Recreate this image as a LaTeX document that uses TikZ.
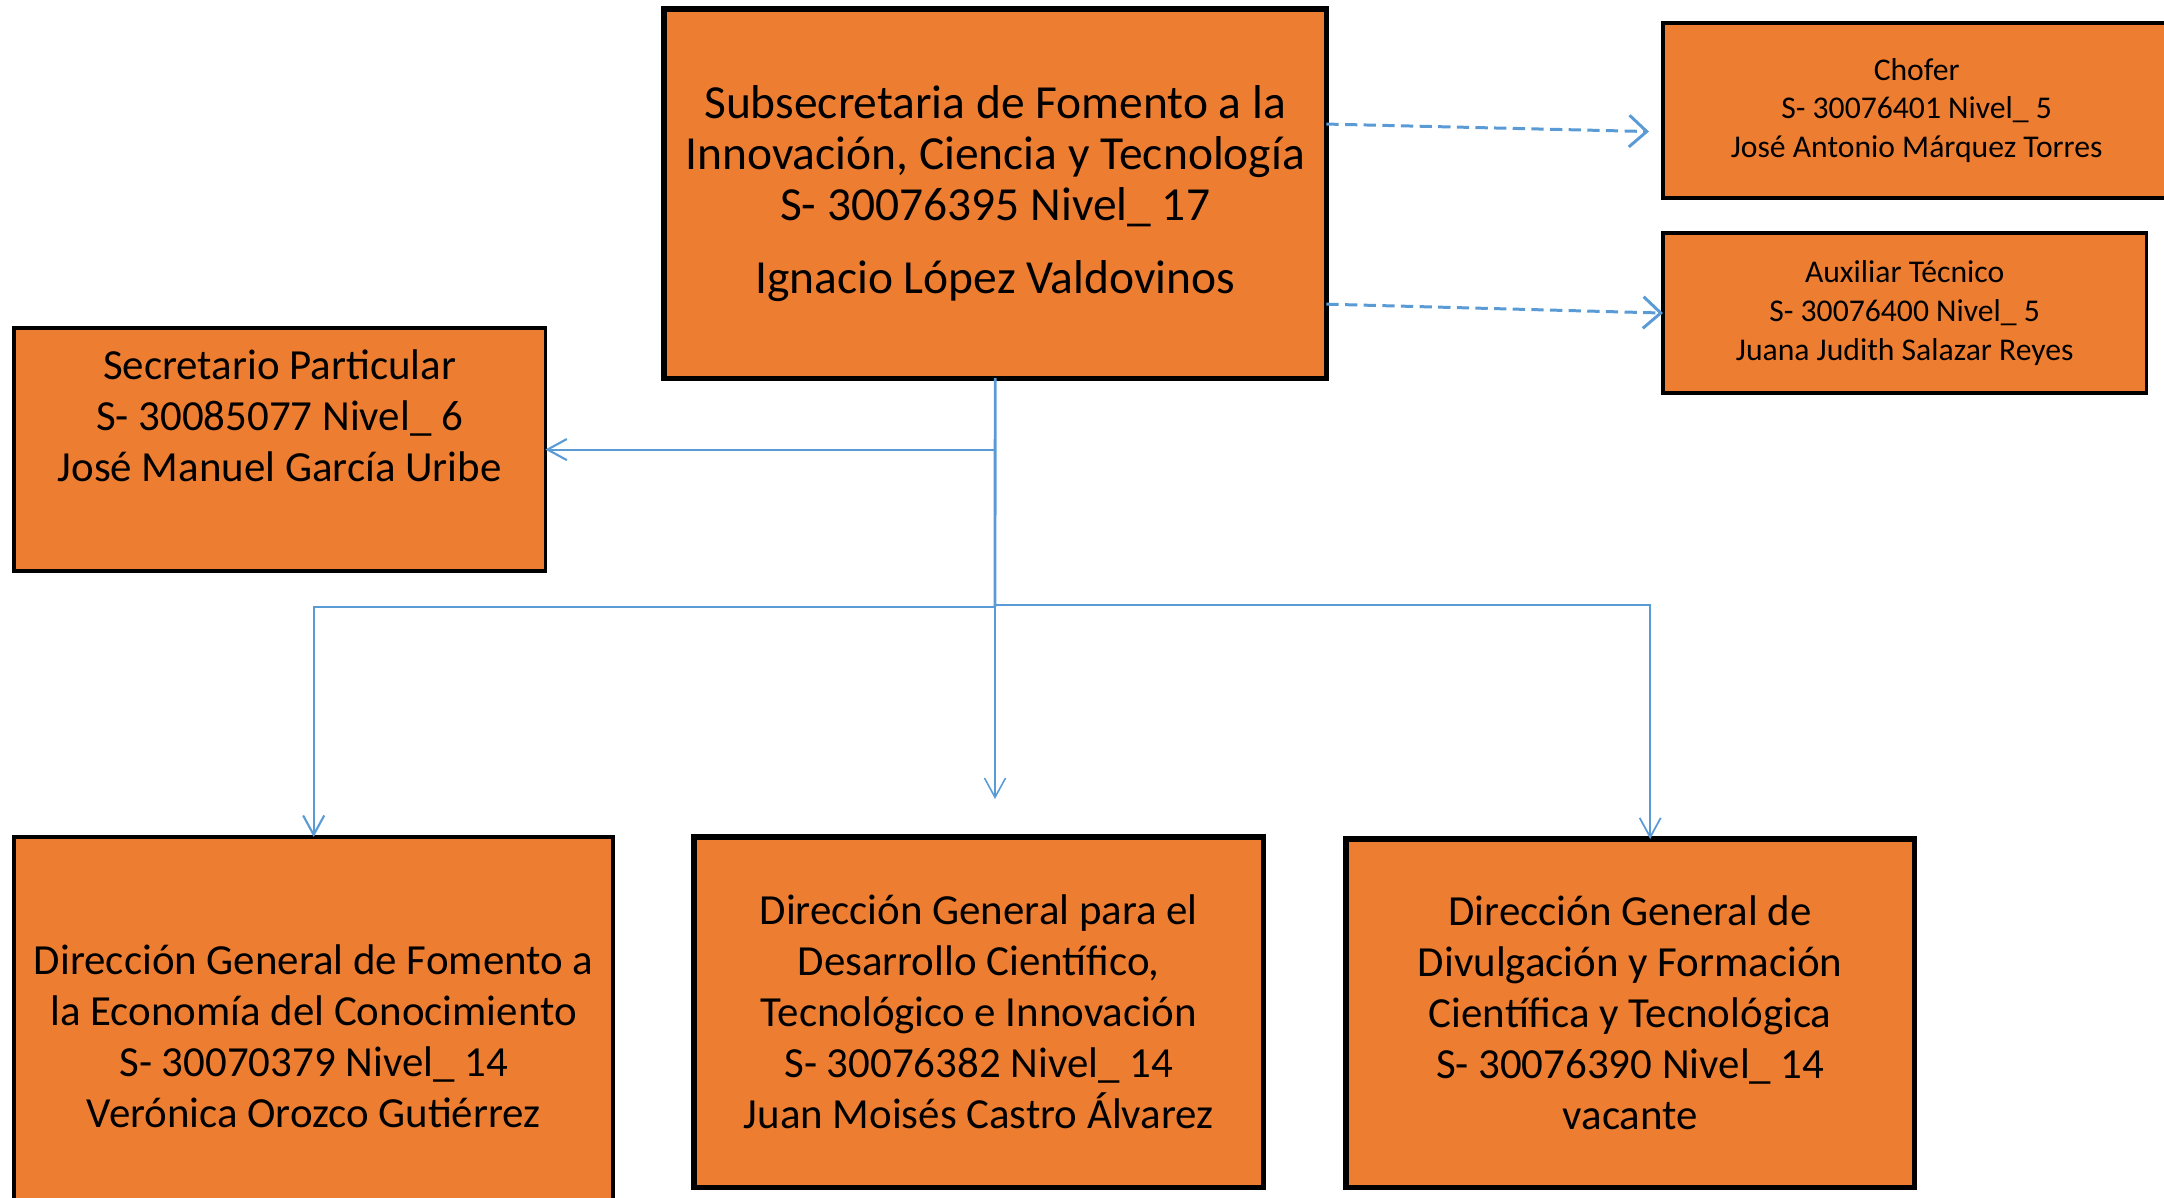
\documentclass[tikz,border=0pt]{standalone}
\usepackage{fontspec}
\setmainfont{Carlito}
\usetikzlibrary{positioning}
\usetikzlibrary{arrows.meta}
\definecolor{boxorange}{HTML}{ED7D31}
\definecolor{linkblue}{HTML}{5B9BD5}
\tikzset{
 box/.style={draw=black,fill=boxorange,line width=1.5pt,anchor=north west,outer sep=0pt,inner sep=2pt,align=center,font=\fontsize{12.2}{14.5}\selectfont},
 bigbox/.style={box,font=\fontsize{13.5}{14.5}\selectfont},
 smallbox/.style={box,line width=1pt,font=\fontsize{9}{11}\selectfont},
 link/.style={draw=linkblue,line width=0.6pt},
 linkarrow/.style={-{Straight Barb[length=5.5pt,width=6pt]}},
 dashlink/.style={link,line width=0.85pt,dash pattern=on 3.5pt off 1.8pt,-{Straight Barb[length=5pt,width=9pt]}}
}
\begin{document}
\begin{tikzpicture}[x=0.01cm,y=-0.01cm]
 \useasboundingbox (0,0) rectangle (2164,1197);
 \node[bigbox,minimum width=6.62cm,minimum height=3.69cm] (subsec) at (664,9) {Subsecretaria de Fomento a la\\Innovación, Ciencia y Tecnología\\S- 30076395 Nivel\_ 17\\[6pt]Ignacio López Valdovinos};
 \node[smallbox,minimum width=5.07cm,minimum height=1.75cm] (chofer) at (1663,23) {Chofer\\S- 30076401 Nivel\_ 5\\José Antonio Márquez Torres};
 \node[smallbox,minimum width=4.83cm,minimum height=1.6cm] (aux) at (1663,233) {Auxiliar Técnico\\S- 30076400 Nivel\_ 5\\Juana Judith Salazar Reyes};
 \node[box,line width=1pt,minimum width=5.31cm,minimum height=2.43cm] (secpar) at (14,328) {Secretario Particular\\S- 30085077 Nivel\_ 6\\José Manuel García Uribe\\[5pt]\mbox{}};
 \node[box,line width=1.2pt,minimum width=5.99cm,minimum height=3.98cm] (dirA) at (14,837) {Dirección General de Fomento a\\la Economía del Conocimiento\\S- 30070379 Nivel\_ 14\\Verónica Orozco Gutiérrez};
 \node[box,minimum width=5.69cm,minimum height=3.5cm] (dirB) at (694,837) {Dirección General para el\\Desarrollo Científico,\\Tecnológico e Innovación\\S- 30076382 Nivel\_ 14\\Juan Moisés Castro Álvarez};
 \node[box,minimum width=5.68cm,minimum height=3.48cm] (dirC) at (1346,839) {Dirección General de\\Divulgación y Formación\\Científica y Tecnológica\\S- 30076390 Nivel\_ 14\\vacante};
 \coordinate (fork) at (995,607);
 \coordinate (midend) at (995,799);
 \draw[link,line width=0.8pt] (subsec.south) -- (fork);
 \draw[link,linkarrow] (subsec.south |- secpar.east) -- (secpar.east);
 \draw[link,linkarrow] (fork) -| (dirA.north);
 \draw[link,linkarrow,line width=0.45pt] (fork) -- (midend);
 \draw[link,linkarrow,line width=0.5pt] ([yshift=0.02cm]fork) -| ([xshift=0.2cm]dirC.north);
 \draw[dashlink] ([yshift=0.695cm]subsec.east) -- ([xshift=-0.14cm,yshift=-0.21cm]chofer.west);
 \draw[dashlink] ([yshift=-1.105cm]subsec.east) -- (aux.west);
\end{tikzpicture}
\end{document}
